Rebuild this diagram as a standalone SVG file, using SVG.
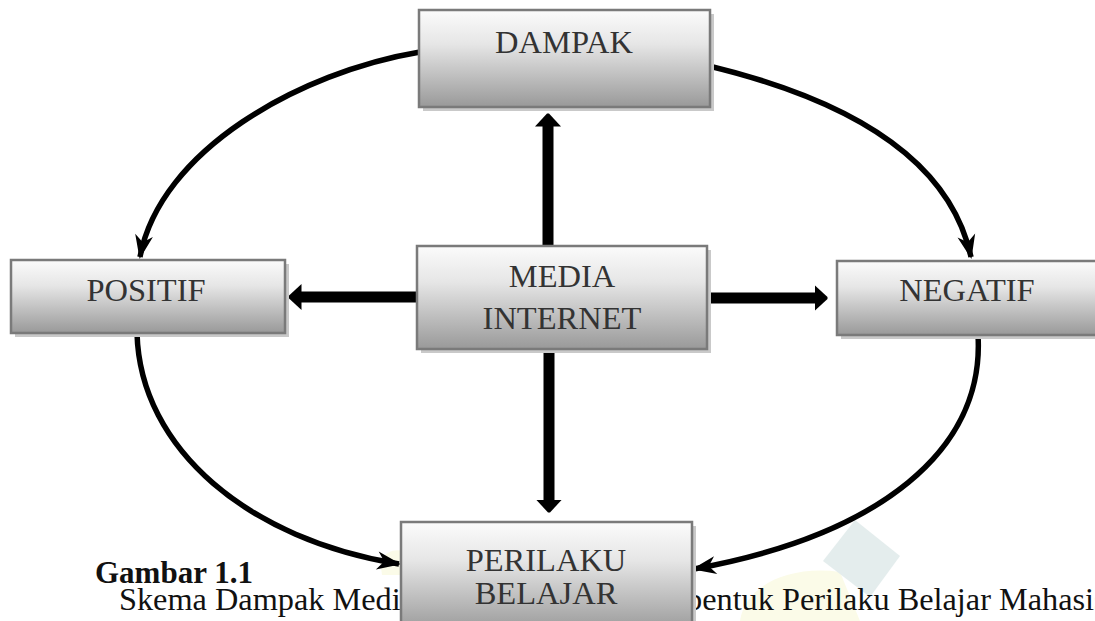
<svg xmlns="http://www.w3.org/2000/svg" width="1095" height="621" viewBox="0 0 1095 621">
<style>
.box{fill:url(#g);stroke:#7a7a7a;stroke-width:2.5}
.sh{fill:#c9c9c9}
.t{font-family:"Liberation Serif","Times New Roman",serif;font-size:32.5px;fill:#333;text-anchor:middle}
.cap{font-family:"Liberation Serif","Times New Roman",serif;font-size:32.3px;fill:#111}
.thick{stroke:#000;stroke-width:11;fill:none;marker-end:url(#big)}
.curve{stroke:#000;stroke-width:5.5;fill:none;marker-end:url(#sm)}
</style>
<defs>
<linearGradient id="g" x1="0" y1="0" x2="0" y2="1">
<stop offset="0" stop-color="#fbfbfb"/>
<stop offset="0.35" stop-color="#e6e6e6"/>
<stop offset="1" stop-color="#999"/>
</linearGradient>
<marker id="big" markerUnits="userSpaceOnUse" viewBox="0 0 14 26" refX="0.5" refY="13" markerWidth="14" markerHeight="26" orient="auto">
<path d="M0,0 L13,12 L13,14 L0,26 z" fill="#000"/>
</marker>
<marker id="sm" markerUnits="userSpaceOnUse" viewBox="-25 -10 26 20" refX="-2" refY="0" markerWidth="26" markerHeight="20" orient="auto">
<path d="M0,0 L-24,-9 L-17,0 L-24,9 z" fill="#000"/>
</marker>
</defs>
<g id="watermark" opacity="0.9">
<path d="M740,621 C745,585 790,565 840,572 L860,621 z" fill="#fbfbe6"/>
<path d="M380,560 C390,548 400,548 410,555 L405,575 L382,575 z" fill="#fbfbe6"/>
<path d="M855,520 L900,556 L870,597 L823,561 z" fill="#e2ecec"/>
</g>
<g id="caption">
<text class="cap" x="95" y="583" style="font-weight:bold;font-size:31px">Gambar 1.1</text>
<text class="cap" y="610"><tspan x="119">Skema Dampak Media Internet dalam Mem</tspan><tspan x="686">bentuk Perilaku Belajar Mahasiswa</tspan></text>
</g>
<g id="connectors">
<line class="thick" x1="548" y1="247" x2="548" y2="126"/>
<line class="thick" x1="549" y1="348" x2="549" y2="500"/>
<line class="thick" x1="418" y1="297" x2="301" y2="297"/>
<line class="thick" x1="706" y1="298" x2="815" y2="298"/>
<path class="curve" d="M420,52 C300,72 160,150 140,257"/>
<path class="curve" d="M709,66 C850,100 950,160 971,257"/>
<path class="curve" d="M137,333 C140,450 250,540 399,564"/>
<path class="curve" d="M978,335 C985,450 880,535 694,569"/>
</g>
<g id="dampak">
<rect class="sh" x="423" y="14" width="291" height="97"/>
<rect class="box" x="419" y="10" width="291" height="97"/>
<text class="t" x="564" y="53">DAMPAK</text>
</g>
<g id="positif">
<rect class="sh" x="15" y="264" width="274" height="73"/>
<rect class="box" x="11" y="260" width="274" height="73"/>
<text class="t" x="146" y="301">POSITIF</text>
</g>
<g id="negatif">
<rect class="sh" x="841" y="265" width="270" height="74"/>
<rect class="box" x="837" y="261" width="270" height="74"/>
<text class="t" x="967" y="301">NEGATIF</text>
</g>
<g id="media">
<rect class="sh" x="421" y="250" width="290" height="103"/>
<rect class="box" x="417" y="246" width="290" height="103"/>
<text class="t" x="562" y="287">MEDIA</text>
<text class="t" x="562" y="329">INTERNET</text>
</g>
<g id="perilaku">
<rect class="sh" x="405" y="526" width="291" height="110"/>
<rect class="box" x="401" y="522" width="291" height="110"/>
<text class="t" x="546" y="571">PERILAKU</text>
<text class="t" x="546" y="604">BELAJAR</text>
</g>
</svg>
